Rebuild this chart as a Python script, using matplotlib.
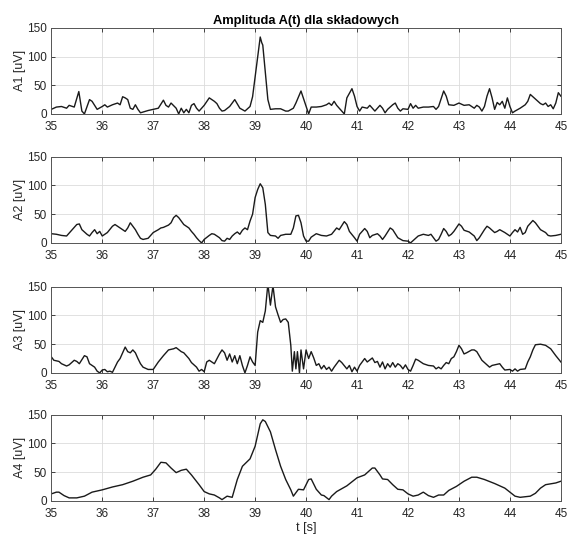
import matplotlib.pyplot as plt

plt.rcParams['font.family'] = ['Liberation Sans', 'DejaVu Sans']

# A1
t1 = [35.0, 35.1, 35.2, 35.3, 35.35, 35.45, 35.54, 35.6, 35.65, 35.75, 35.8, 35.9,
      36.0, 36.05, 36.1, 36.2, 36.3, 36.35, 36.4, 36.45, 36.5, 36.55, 36.6, 36.65,
      36.7, 36.75, 36.9, 37.0, 37.1, 37.2, 37.25, 37.3, 37.35, 37.45, 37.5, 37.55,
      37.6, 37.65, 37.7, 37.75, 37.8, 37.85, 37.9, 38.0, 38.1, 38.2, 38.25, 38.3,
      38.35, 38.4, 38.5, 38.6, 38.7, 38.8, 38.9, 38.95, 39.0, 39.05, 39.1, 39.13,
      39.15, 39.2, 39.25, 39.3, 39.4, 39.5, 39.6, 39.65, 39.75, 39.8, 39.9, 40.0,
      40.05, 40.1, 40.2, 40.3, 40.4, 40.45, 40.5, 40.55, 40.6, 40.7, 40.75, 40.8,
      40.9, 40.95, 41.0, 41.05, 41.1, 41.2, 41.25, 41.3, 41.35, 41.45, 41.5, 41.55,
      41.6, 41.7, 41.75, 41.8, 41.85, 41.9, 42.0, 42.05, 42.1, 42.15, 42.2, 42.3,
      42.4, 42.5, 42.55, 42.6, 42.7, 42.75, 42.8, 42.9, 43.0, 43.1, 43.2, 43.3,
      43.35, 43.4, 43.45, 43.5, 43.55, 43.6, 43.65, 43.7, 43.75, 43.8, 43.85, 43.9,
      43.95, 44.0, 44.05, 44.1, 44.2, 44.3, 44.35, 44.4, 44.5, 44.6, 44.65, 44.7,
      44.75, 44.8, 44.85, 44.9, 44.95, 45.0]
a1 = [8, 12, 13, 10, 15, 12, 39, 5, 0, 25, 22, 8,
      13, 16, 12, 16, 19, 16, 30, 28, 25, 10, 8, 16,
      8, 2, 6, 8, 10, 24, 15, 12, 19, 10, 0, 10,
      2, 8, 2, 15, 18, 10, 5, 15, 28, 22, 18, 10,
      5, 6, 13, 25, 10, 5, 13, 30, 65, 100, 134, 124,
      120, 72, 25, 8, 9, 9, 5, 5, 10, 19, 40, 13,
      0, 12, 12, 13, 16, 19, 15, 22, 15, 5, 0, 28,
      44, 31, 13, 5, 12, 10, 15, 10, 5, 15, 10, 2,
      8, 16, 19, 10, 5, 9, 8, 18, 10, 15, 10, 12,
      12, 13, 8, 13, 40, 31, 16, 15, 19, 15, 16, 10,
      15, 12, 5, 13, 31, 44, 28, 8, 20, 16, 22, 10,
      28, 13, 2, 5, 10, 16, 22, 34, 26, 18, 16, 19,
      13, 16, 9, 19, 37, 31]

# A2
t2 = [35.0, 35.1, 35.2, 35.3, 35.4, 35.5, 35.55, 35.6, 35.7, 35.75, 35.8, 35.85,
      35.9, 35.95, 36.0, 36.05, 36.1, 36.2, 36.25, 36.3, 36.4, 36.45, 36.5, 36.55,
      36.6, 36.65, 36.7, 36.75, 36.8, 36.9, 37.0, 37.1, 37.15, 37.2, 37.3, 37.35,
      37.4, 37.45, 37.5, 37.55, 37.6, 37.7, 37.75, 37.8, 37.85, 37.9, 37.95, 38.0,
      38.1, 38.15, 38.2, 38.3, 38.35, 38.4, 38.45, 38.5, 38.55, 38.6, 38.65, 38.7,
      38.75, 38.8, 38.85, 38.9, 38.95, 39.0, 39.05, 39.1, 39.15, 39.2, 39.25, 39.3,
      39.4, 39.45, 39.5, 39.6, 39.7, 39.75, 39.8, 39.85, 39.9, 39.95, 40.0, 40.05,
      40.1, 40.2, 40.3, 40.4, 40.5, 40.6, 40.65, 40.75, 40.8, 40.85, 40.95, 41.0,
      41.05, 41.15, 41.2, 41.25, 41.3, 41.4, 41.45, 41.5, 41.55, 41.65, 41.7, 41.8,
      41.9, 42.0, 42.05, 42.1, 42.2, 42.3, 42.4, 42.45, 42.55, 42.6, 42.65, 42.7,
      42.75, 42.8, 42.85, 42.9, 43.0, 43.05, 43.1, 43.2, 43.3, 43.35, 43.4, 43.5,
      43.55, 43.6, 43.7, 43.75, 43.8, 43.9, 44.0, 44.05, 44.1, 44.15, 44.2, 44.25,
      44.3, 44.35, 44.45, 44.5, 44.55, 44.6, 44.7, 44.75, 44.8, 44.9, 45.0]
a2 = [16, 15, 13, 12, 22, 32, 33, 23, 15, 12, 18, 23,
      16, 20, 12, 15, 18, 29, 32, 29, 23, 20, 26, 35,
      29, 23, 15, 8, 6, 8, 18, 23, 26, 27, 31, 35,
      44, 48, 44, 38, 32, 26, 20, 15, 9, 4, 0, 6,
      13, 16, 15, 9, 4, 3, 8, 6, 12, 16, 19, 15,
      22, 26, 23, 38, 50, 79, 93, 103, 96, 67, 18, 13,
      12, 8, 13, 15, 15, 26, 47, 48, 35, 12, 3, 3,
      10, 16, 13, 12, 15, 26, 23, 37, 32, 20, 9, 3,
      15, 25, 20, 9, 13, 16, 12, 6, 12, 26, 23, 9,
      4, 3, 0, 4, 12, 15, 13, 15, 3, 6, 15, 25,
      20, 12, 15, 20, 33, 29, 22, 19, 12, 4, 9, 23,
      29, 26, 18, 20, 23, 18, 12, 18, 23, 19, 27, 15,
      18, 29, 39, 35, 29, 23, 18, 13, 12, 13, 15]

# A3
t3 = [35.0, 35.05, 35.15, 35.2, 35.3, 35.35, 35.45, 35.5, 35.55, 35.65, 35.7, 35.75,
      35.8, 35.85, 35.9, 35.95, 36.0, 36.05, 36.1, 36.15, 36.2, 36.25, 36.3, 36.35,
      36.45, 36.5, 36.55, 36.6, 36.65, 36.7, 36.75, 36.8, 36.9, 37.0, 37.1, 37.2,
      37.3, 37.4, 37.45, 37.55, 37.6, 37.7, 37.75, 37.85, 37.9, 37.95, 38.0, 38.05,
      38.1, 38.15, 38.2, 38.3, 38.35, 38.4, 38.45, 38.5, 38.55, 38.6, 38.65, 38.7,
      38.75, 38.8, 38.85, 38.9, 38.95, 39.0, 39.05, 39.1, 39.15, 39.2, 39.25, 39.3,
      39.35, 39.4, 39.45, 39.5, 39.55, 39.6, 39.65, 39.7, 39.73, 39.77, 39.8, 39.83,
      39.87, 39.9, 39.95, 40.0, 40.05, 40.1, 40.15, 40.2, 40.25, 40.3, 40.35, 40.4,
      40.45, 40.5, 40.55, 40.65, 40.7, 40.8, 40.85, 40.9, 40.95, 41.0, 41.05, 41.15,
      41.2, 41.3, 41.35, 41.4, 41.45, 41.5, 41.55, 41.6, 41.65, 41.7, 41.75, 41.8,
      41.85, 41.9, 41.95, 42.0, 42.05, 42.1, 42.15, 42.2, 42.3, 42.4, 42.5, 42.55,
      42.6, 42.65, 42.7, 42.75, 42.8, 42.85, 42.9, 42.95, 43.0, 43.05, 43.1, 43.15,
      43.25, 43.3, 43.35, 43.45, 43.55, 43.6, 43.65, 43.7, 43.8, 43.85, 43.9, 44.0,
      44.05, 44.1, 44.15, 44.2, 44.3, 44.35, 44.4, 44.45, 44.5, 44.6, 44.7, 44.8,
      44.9, 45.0]
a3 = [28, 22, 20, 16, 12, 14, 22, 20, 16, 30, 28, 16,
      13, 10, 3, 0, 5, 6, 2, 3, 1, 10, 19, 25,
      45, 37, 35, 40, 35, 25, 16, 10, 6, 6, 19, 30,
      40, 42, 44, 37, 35, 25, 18, 10, 3, 6, 2, 19,
      22, 19, 16, 33, 40, 35, 22, 33, 19, 30, 16, 30,
      13, 0, 13, 28, 19, 13, 71, 91, 88, 108, 155, 118,
      152, 115, 101, 88, 93, 94, 88, 48, 3, 37, 7, 37,
      0, 40, 7, 40, 25, 37, 26, 13, 16, 7, 13, 6,
      10, 3, 10, 22, 18, 7, 13, 2, 10, 3, 13, 25,
      19, 26, 18, 20, 10, 19, 7, 16, 10, 18, 10, 16,
      13, 7, 14, 6, 3, 13, 24, 22, 16, 13, 12, 7,
      10, 7, 13, 18, 16, 25, 28, 37, 48, 42, 33, 35,
      40, 40, 37, 22, 14, 10, 13, 14, 16, 10, 5, 6,
      3, 7, 3, 6, 7, 19, 28, 40, 49, 50, 48, 42,
      30, 19]

# A4
t4 = [35.0, 35.1, 35.15, 35.25, 35.35, 35.5, 35.65, 35.8, 36.0, 36.2, 36.4, 36.6,
      36.8, 36.95, 37.05, 37.15, 37.25, 37.35, 37.45, 37.55, 37.65, 37.75, 37.9, 38.0,
      38.1, 38.2, 38.3, 38.35, 38.45, 38.55, 38.65, 38.75, 38.9, 39.0, 39.1, 39.15,
      39.2, 39.3, 39.4, 39.5, 39.6, 39.7, 39.75, 39.85, 39.95, 40.05, 40.1, 40.2,
      40.3, 40.35, 40.45, 40.5, 40.6, 40.8, 41.0, 41.15, 41.25, 41.3, 41.35, 41.45,
      41.5, 41.6, 41.7, 41.8, 41.9, 42.0, 42.1, 42.2, 42.3, 42.4, 42.5, 42.6,
      42.7, 42.8, 42.95, 43.1, 43.25, 43.35, 43.5, 43.7, 43.9, 44.0, 44.1, 44.2,
      44.4, 44.5, 44.6, 44.7, 44.9, 45.0]
a4 = [12, 15, 15, 9, 5, 5, 8, 15, 19, 24, 28, 34,
      41, 45, 55, 67, 66, 57, 49, 53, 55, 45, 28, 16,
      12, 10, 5, 2, 8, 6, 37, 60, 73, 95, 134, 141,
      138, 120, 89, 60, 37, 19, 8, 20, 19, 37, 38, 20,
      10, 9, 2, 8, 16, 26, 40, 45, 53, 57, 57, 45,
      38, 37, 28, 20, 19, 12, 8, 10, 15, 9, 6, 10,
      10, 18, 25, 34, 41, 41, 37, 30, 22, 15, 8, 6,
      8, 13, 22, 28, 31, 34]

series = [(t1, a1, 'A1 [uV]'), (t2, a2, 'A2 [uV]'),
          (t3, a3, 'A3 [uV]'), (t4, a4, 'A4 [uV]')]

fig = plt.figure(figsize=(5.7, 5.35), dpi=100)
bottoms = [0.787, 0.546, 0.303, 0.064]
txt = '#262626'

for i, (t, a, lab) in enumerate(series):
    ax = fig.add_axes([0.09, bottoms[i], 0.894, 0.161])
    ax.plot(t, a, color='#1a1a1a', lw=1.0)
    ax.set_xlim(35, 45)
    ax.set_ylim(0, 150)
    ax.set_xticks(range(35, 46))
    ax.set_yticks([0, 50, 100, 150])
    ax.grid(True, color='#dcdcdc', lw=0.6)
    ax.tick_params(direction='in', top=True, right=True, labelsize=8.5,
                   colors=txt, length=3, width=0.6)
    ax.tick_params(axis='x', pad=5)
    ax.tick_params(axis='y', pad=3)
    for s in ax.spines.values():
        s.set_color('#555555')
        s.set_linewidth(0.7)
    ax.set_ylabel(lab, fontsize=9, color=txt, labelpad=1)
    if i == 0:
        ax.set_title('Amplituda A(t) dla składowych', fontsize=9.3,
                     fontweight='bold', color='black', pad=3)
    if i == 3:
        ax.set_xlabel('t [s]', fontsize=9, color=txt, labelpad=2)

fig.savefig('out.png', dpi=100)
